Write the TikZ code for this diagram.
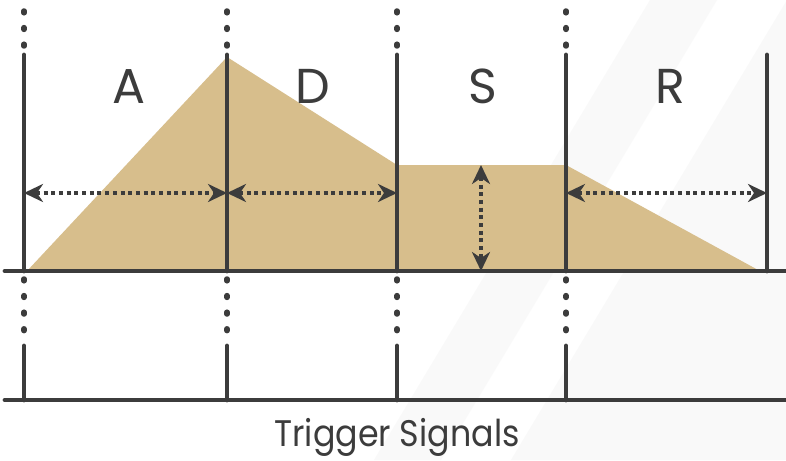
\documentclass[tikz,border=0pt]{standalone}
\usepackage{fontspec}
\setmainfont{Poppins}
\usetikzlibrary{arrows.meta}
\definecolor{ink}{HTML}{3C3C3C}
\definecolor{sand}{HTML}{D7BE8C}
\definecolor{haze}{HTML}{F9F9F9}
\begin{document}
\begin{tikzpicture}[x=1pt,y=-1pt,
  bar/.style={ink, line width=4.8pt, line cap=round},
  dotline/.style={ink, line width=5.5pt, line cap=round, dash pattern=on 1.8pt off 14.8pt},
  span/.style={ink, line width=3.4pt, dash pattern=on 4pt off 3.7pt, {Stealth[length=19pt,width=18pt,inset=6pt]}-{Stealth[length=19pt,width=18pt,inset=6pt]}},
  stage/.style={font=\fontsize{49}{49}\selectfont, text=ink, anchor=base, inner sep=0pt},
  caption/.style={font=\fontsize{37}{37}\selectfont, text=ink, anchor=base, inner sep=0pt, xscale=0.9}]

% canvas and faint diagonal bands
\fill[white] (0,0) rectangle (786,460);
\useasboundingbox (0,0) rectangle (786,460);
\begin{scope}
  \clip (0,0) rectangle (786,460);
  \fill[haze] (650,0) -- (717,0) -- (441,460) -- (374,460) -- cycle;
  \fill[haze] (787,0) -- (900,0) -- (900,460) -- (511,460) -- cycle;
\end{scope}

% envelope shape
\fill[sand] (27,271) -- (227,57) -- (397,165) -- (566,165) -- (760,271) -- cycle;

% stage boundaries: dotted lead-in, then solid bar
\foreach \x in {24,227,397,566} {
  \draw[dotline] (\x,11) -- (\x,46);
  \draw[bar] (\x,55) -- (\x,271);
  \draw[dotline] (\x,279) -- (\x,331);
  \draw[bar] (\x,346) -- (\x,400);
}
\draw[bar] (767,55) -- (767,271);

% axes
\draw[bar] (5,271) -- (790,271);
\draw[bar] (5,400) -- (790,400);

% duration and level markers
\coordinate (a0) at (24,193);
\coordinate (a1) at (227,193);
\coordinate (d1) at (397,193);
\coordinate (r0) at (566,193);
\coordinate (r1) at (767,193);
\coordinate (s0) at (481,165);
\coordinate (s1) at (481,271);
\draw[span] (a0) -- (a1);
\draw[span] (a1) -- (d1);
\draw[span] (r0) -- (r1);
\draw[span] (s0) -- (s1);

% stage letters
\node[stage] (lA) at (129,103) {A};
\node[stage] (lD) at (313,103) {D};
\node[stage] (lS) at (483,103) {S};
\node[stage] (lR) at (670,103) {R};

\node[caption] (trig) at (397,446) {Trigger Signals};
\end{tikzpicture}
\end{document}
